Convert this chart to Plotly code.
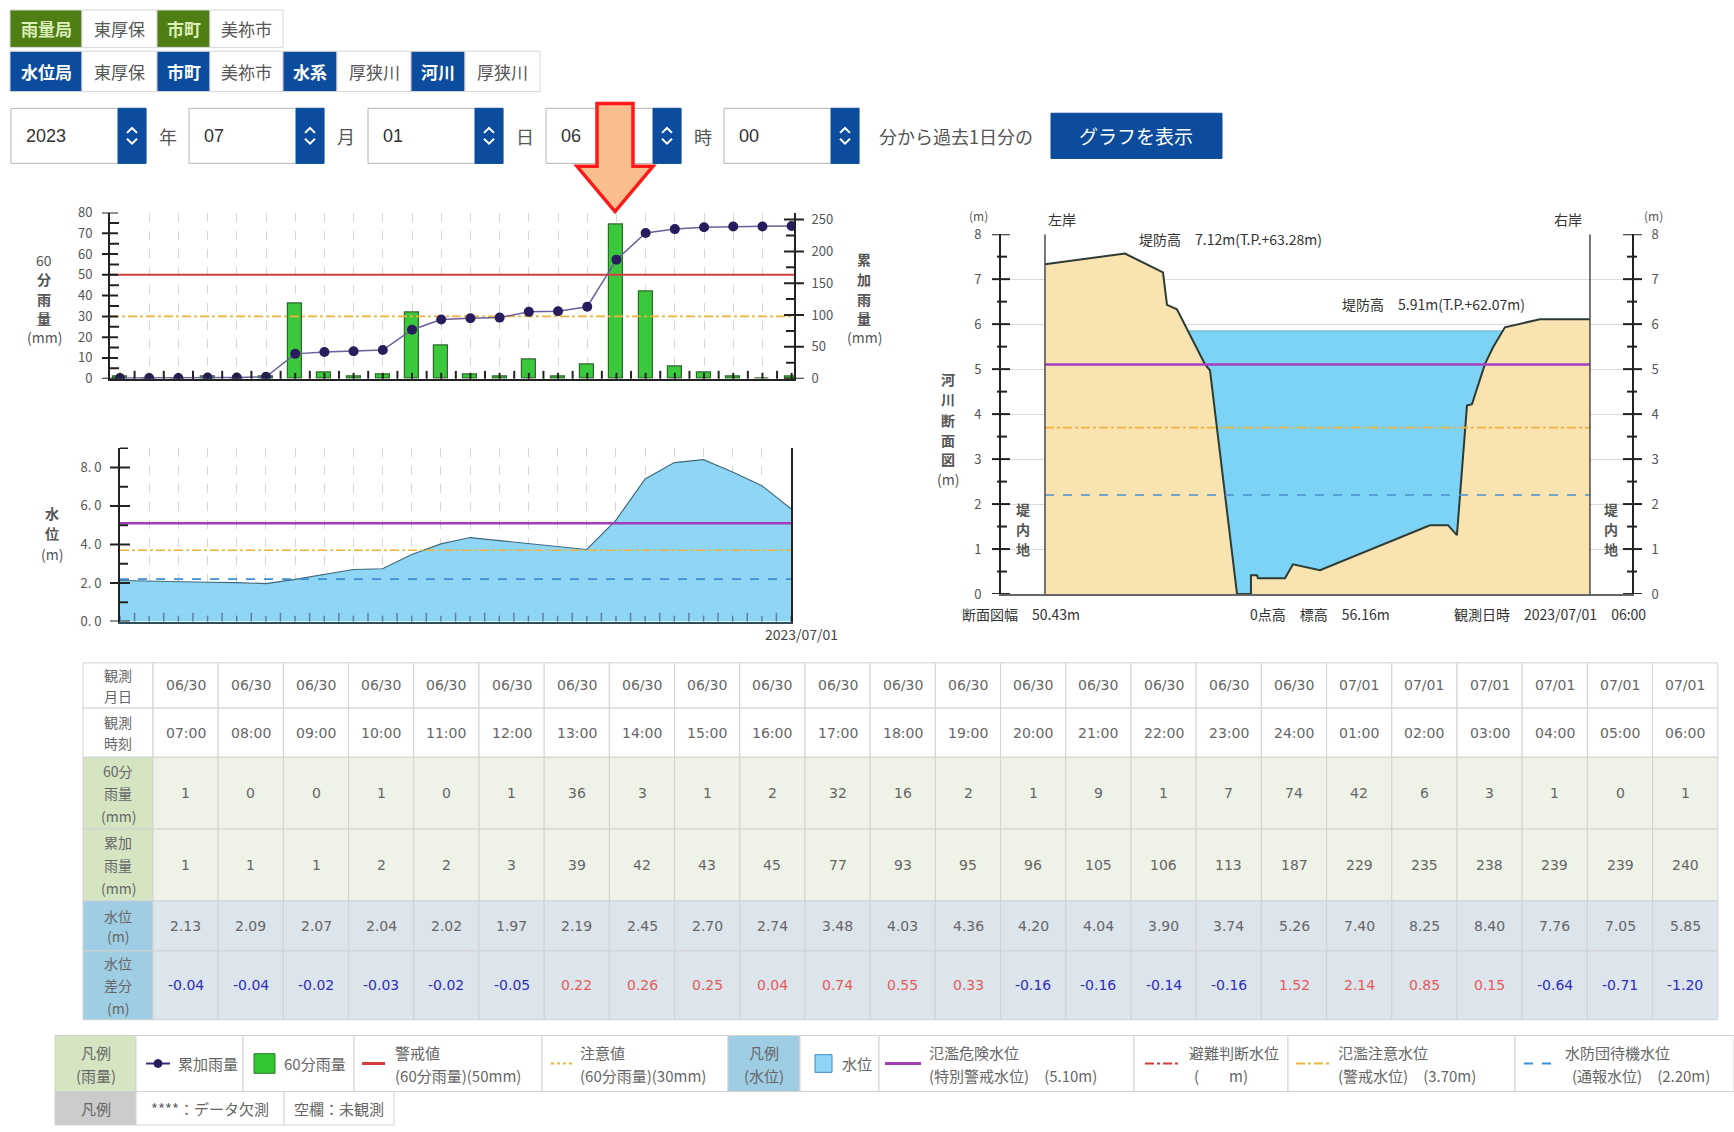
import plotly.graph_objects as go

W, H = 1734, 1132
JP = "Noto Sans CJK JP"
NUM = "DejaVu Sans"

# ---------------- data ----------------
obs_dates = ["06/30"] * 18 + ["07/01"] * 6
obs_times = ["07:00", "08:00", "09:00", "10:00", "11:00", "12:00", "13:00", "14:00",
             "15:00", "16:00", "17:00", "18:00", "19:00", "20:00", "21:00", "22:00",
             "23:00", "24:00", "01:00", "02:00", "03:00", "04:00", "05:00", "06:00"]
rain_60 = [1, 0, 0, 1, 0, 1, 36, 3, 1, 2, 32, 16, 2, 1, 9, 1, 7, 74, 42, 6, 3, 1, 0, 1]
rain_cum = [1, 1, 1, 2, 2, 3, 39, 42, 43, 45, 77, 93, 95, 96, 105, 106, 113, 187, 229,
            235, 238, 239, 239, 240]
water_level = [2.13, 2.09, 2.07, 2.04, 2.02, 1.97, 2.19, 2.45, 2.70, 2.74, 3.48, 4.03,
               4.36, 4.20, 4.04, 3.90, 3.74, 5.26, 7.40, 8.25, 8.40, 7.76, 7.05, 5.85]
level_diff = [-0.04, -0.04, -0.02, -0.03, -0.02, -0.05, 0.22, 0.26, 0.25, 0.04, 0.74,
              0.55, 0.33, -0.16, -0.16, -0.14, -0.16, 1.52, 2.14, 0.85, 0.15, -0.64,
              -0.71, -1.20]
hour_idx = list(range(len(obs_times)))

rain_warn = 50
rain_caution = 30
lvl_danger = 5.10
lvl_caution = 3.70
lvl_standby = 2.20

# river cross-section (distance from left bank [m], height [m])
xs_dist = [0.0, 7.40, 10.92, 11.29, 12.21, 14.80, 15.27, 17.77, 19.06, 19.06, 19.62,
           19.71, 22.21, 22.95, 25.45, 35.62, 37.29, 38.12, 39.05, 39.51, 40.71, 41.45,
           42.56, 45.80, 50.43]
xs_elev = [7.33, 7.57, 7.15, 6.43, 6.33, 5.11, 4.97, 0.0, 0.0, 0.42, 0.42, 0.35, 0.35,
           0.66, 0.53, 1.53, 1.53, 1.31, 4.19, 4.22, 5.11, 5.48, 5.93, 6.11, 6.11]
xs_width = 50.43
xs_water = 5.85

rain_left_ticks = list(range(0, 81, 10))
rain_left_minor = list(range(5, 80, 10))
rain_right_ticks = list(range(0, 251, 50))
rain_right_minor = list(range(25, 250, 50))
level_ticks = [0, 2, 4, 6, 8]
level_ticktext = ["0. 0", "2. 0", "4. 0", "6. 0", "8. 0"]
level_minor = [1, 3, 5, 7, 9]
xs_ticks = list(range(0, 9))
xs_minor = [i + 0.5 for i in range(8)]

# ---------------- helpers ----------------
shapes = []
annotations = []


def X(p):
    return p / W


def Y(p):
    return 1 - p / H


def box(x0, y0, x1, y1, fill, line="#d0d0d0", lw=1, layer="below"):
    shapes.append(dict(type="rect", xref="paper", yref="paper", x0=X(x0), x1=X(x1),
                       y0=Y(y1), y1=Y(y0), fillcolor=fill,
                       line=dict(color=line, width=lw), layer=layer))


def seg(x0, y0, x1, y1, color, w=2, dash="solid", layer="above"):
    shapes.append(dict(type="line", xref="paper", yref="paper", x0=X(x0), x1=X(x1),
                       y0=Y(y0), y1=Y(y1), line=dict(color=color, width=w, dash=dash),
                       layer=layer))


def label(x, y, s, size=14, color="#555", anchor="center", family=JP):
    annotations.append(dict(xref="paper", yref="paper", x=X(x), y=Y(y), text=s,
                            showarrow=False, xanchor=anchor, yanchor="middle",
                            font=dict(size=size, color=color, family=family)))


def ytick(yref, v, x0, x1, color="#222", w=2):
    shapes.append(dict(type="line", xref="paper", yref=yref, x0=X(x0), x1=X(x1),
                       y0=v, y1=v, line=dict(color=color, width=w), layer="above"))


def xtick(xref, v, y0, y1, color="#222", w=2):
    shapes.append(dict(type="line", xref=xref, yref="paper", x0=v, x1=v,
                       y0=Y(y0), y1=Y(y1), line=dict(color=color, width=w), layer="above"))


def vstack(x, ys, texts, size=14, color="#555"):
    for yy, t in zip(ys, texts):
        label(x, yy, t, size=size, color=color)


# ---------------- top controls ----------------
GREEN_HDR = "#4F7E15"
BLUE_HDR = "#0B4C9E"
station_row1 = [("雨量局", "g"), ("東厚保", "w"), ("市町", "g"), ("美祢市", "w")]
station_row2 = [("水位局", "b"), ("東厚保", "w"), ("市町", "b"), ("美祢市", "w"),
                ("水系", "b"), ("厚狭川", "w"), ("河川", "b"), ("厚狭川", "w")]
row1_edges = [10, 82, 157, 210, 283]
row2_edges = [10, 82, 157, 210, 283, 337, 411, 465, 540]
for (items, edges, y0, y1) in [(station_row1, row1_edges, 0, 38),
                               (station_row2, row2_edges, 42, 83)]:
    for k, (t, kind) in enumerate(items):
        a, b = edges[k], edges[k + 1]
        if kind == "g":
            box(a, y0, b, y1, GREEN_HDR, line="#d8d8d8")
            label((a + b) / 2, (y0 + y1) / 2, "<b>" + t + "</b>", 17, "#DDEFB8")
        elif kind == "b":
            box(a, y0, b, y1, BLUE_HDR, line="#d8d8d8")
            label((a + b) / 2, (y0 + y1) / 2, "<b>" + t + "</b>", 17, "#ffffff")
        else:
            box(a, y0, b, y1, "#ffffff", line="#d8d8d8")
            label((a + b) / 2, (y0 + y1) / 2, t, 17, "#555")

date_values = ["2023", "07", "01", "06", "00"]
date_units = ["年", "月", "日", "時"]
sel_left = [11, 189, 368, 546, 724]
sel_w, spin_w = 135, 28
sy0, sy1 = 100, 156
cy = (sy0 + sy1) / 2
for k, v in enumerate(date_values):
    a = sel_left[k]
    box(a, sy0, a + sel_w, sy1, "#ffffff", line="#b5b5b5")
    box(a + sel_w - spin_w, sy0, a + sel_w, sy1, "#0B4C9E", line="#0B4C9E")
    cx = a + sel_w - spin_w / 2
    for sgn in (-1, 1):
        p = (f"M{X(cx - 5)},{Y(cy + sgn * 3)} L{X(cx)},{Y(cy + sgn * 8)} "
             f"L{X(cx + 5)},{Y(cy + sgn * 3)}")
        shapes.append(dict(type="path", xref="paper", yref="paper", path=p,
                           line=dict(color="#ffffff", width=2), layer="above"))
    label(a + 13, cy, v, 18, "#333", anchor="left", family="Liberation Sans")
    if k < 4:
        label((a + sel_w + sel_left[k + 1]) / 2, cy, date_units[k], 18, "#555")
label(877, cy, "分から過去1日分の", 18, "#555", anchor="left")
box(1051, 105, 1222, 151, "#0D4C9C", line="#0D4C9C")
label(1136, cy, "グラフを表示", 19, "#ffffff")

# red arrow
ap = [(597, 95), (633, 95), (633, 159), (653, 159), (615, 205), (577, 159), (597, 159)]
path = "M" + " L".join(f"{X(a)},{Y(b)}" for a, b in ap) + " Z"
shapes.append(dict(type="path", xref="paper", yref="paper", path=path,
                   fillcolor="#F9BE8E", line=dict(color="#FF1A1A", width=3.5),
                   layer="above"))

# ---------------- traces ----------------
RX = [-0.342, 23.08]
traces = []
# rainfall thresholds
traces.append(go.Scatter(x=RX, y=[rain_warn] * 2, mode="lines", xaxis="x", yaxis="y",
                         line=dict(color="#D23C3C", width=2), hoverinfo="skip"))
traces.append(go.Scatter(x=RX, y=[rain_caution] * 2, mode="lines", xaxis="x", yaxis="y",
                         line=dict(color="#F0B23A", width=1.6, dash="dashdot"),
                         hoverinfo="skip"))
traces.append(go.Bar(x=hour_idx, y=rain_60, xaxis="x", yaxis="y", width=0.48,
                     marker=dict(color="#3CC83C", line=dict(color="#2C6A2C", width=1.2))))
traces.append(go.Scatter(x=hour_idx, y=rain_cum, xaxis="x", yaxis="y2",
                         mode="lines+markers",
                         line=dict(color="#6E5E9A", width=1.5),
                         marker=dict(size=10, color="#281C5C")))

# water level
traces.append(go.Scatter(x=hour_idx, y=water_level, xaxis="x3", yaxis="y3", mode="lines",
                         fill="tozeroy", fillcolor="#8FD5F5",
                         line=dict(color="#3F6B7C", width=1.2)))
WX = [0, 23]
traces.append(go.Scatter(x=WX, y=[lvl_danger] * 2, mode="lines", xaxis="x3", yaxis="y3",
                         line=dict(color="#A23CB8", width=2.5)))
traces.append(go.Scatter(x=WX, y=[lvl_caution] * 2, mode="lines", xaxis="x3", yaxis="y3",
                         line=dict(color="#F0B23A", width=1.6, dash="dashdot")))
traces.append(go.Scatter(x=WX, y=[lvl_standby] * 2, mode="lines", xaxis="x3", yaxis="y3",
                         line=dict(color="#3D8FD6", width=1.6, dash="dash")))

# cross-section
BX = [0, xs_width]
traces.append(go.Scatter(x=BX, y=[xs_water] * 2, mode="lines", xaxis="x4", yaxis="y4",
                         fill="tozeroy", fillcolor="#7DD3F6",
                         line=dict(color="#6AAFD0", width=1)))
traces.append(go.Scatter(x=xs_dist, y=xs_elev, mode="lines", xaxis="x4", yaxis="y4",
                         fill="tozeroy", fillcolor="#F8E3B1",
                         line=dict(color="#2E3B33", width=2)))
traces.append(go.Scatter(x=BX, y=[lvl_danger] * 2, mode="lines", xaxis="x4", yaxis="y4",
                         line=dict(color="#A83CC0", width=2.5)))
traces.append(go.Scatter(x=BX, y=[lvl_caution] * 2, mode="lines", xaxis="x4", yaxis="y4",
                         line=dict(color="#F0B23A", width=1.6, dash="dashdot")))
traces.append(go.Scatter(x=BX, y=[lvl_standby] * 2, mode="lines", xaxis="x4", yaxis="y4",
                         line=dict(color="#4A90D0", width=1.6, dash="dash")))
traces.append(go.Scatter(x=BX, y=[0, 0], mode="lines", xaxis="x4", yaxis="y5",
                         line=dict(width=0), hoverinfo="skip"))

fig = go.Figure(traces)

# chart geometry (px)
R_TOP, R_BOT = 206, 375
W_TOP, W_BOT = 445, 622
C_TOP, C_BOT = 228, 594

# ---------------- ticks drawn as crossing marks ----------------
for v in rain_left_ticks:
    ytick("y", v, 102, 118)
for v in rain_left_minor:
    ytick("y", v, 110, 119)
for v in rain_right_ticks:
    ytick("y2", v, 784, 804)
for v in rain_right_minor:
    ytick("y2", v, 786, 795)
for i in hour_idx:
    xtick("x", i, R_BOT, R_BOT - 6)
for i in hour_idx[:-1]:
    xtick("x", i + 0.5, R_BOT, R_BOT - 8)
for v in level_ticks:
    ytick("y3", v, 110, 130)
for v in level_minor:
    ytick("y3", v, 120, 128)
for i in hour_idx:
    xtick("x3", i, W_BOT, W_BOT - 6, color="#5E8398", w=1.5)
for i in hour_idx[:-1]:
    xtick("x3", i + 0.5, W_BOT, W_BOT - 9, color="#5E8398", w=1.5)
for v in xs_ticks:
    ytick("y4", v, 992, 1010)
    ytick("y4", v, 1623, 1642)
for v in xs_minor:
    ytick("y4", v, 997, 1007)
    ytick("y4", v, 1627, 1637)
# bank lines
for bx in BX:
    shapes.append(dict(type="line", xref="x4", yref="y4", x0=bx, x1=bx, y0=0, y1=8,
                       line=dict(color="#4a4a4a", width=1.5), layer="above"))

# ---------------- chart texts ----------------
vstack(44, [254, 274, 294, 313, 333], ["60", "<b>分</b>", "<b>雨</b>", "<b>量</b>", "(mm)"],
       size=14, color="#555")
vstack(864, [253, 274, 294, 313, 333], ["<b>累</b>", "<b>加</b>", "<b>雨</b>", "<b>量</b>", "(mm)"],
       size=14, color="#555")
vstack(52, [512, 532, 553], ["<b>水</b>", "<b>位</b>", "(m)"], size=14, color="#555")
label(840, 635, "2023/07/01", 14, "#444", anchor="right")
vstack(948, [375, 396, 417, 437, 457, 477], ["<b>河</b>", "<b>川</b>", "<b>断</b>", "<b>面</b>", "<b>図</b>", "(m)"],
       size=14, color="#555")
vstack(1023, [508, 528, 548], ["<b>堤</b>", "<b>内</b>", "<b>地</b>"], size=14, color="#555")
vstack(1611, [508, 528, 548], ["<b>堤</b>", "<b>内</b>", "<b>地</b>"], size=14, color="#555")
label(979, 209, "(m)", 12, "#555")
label(1653, 209, "(m)", 12, "#555")
label(1062, 213, "左岸", 14, "#333")
label(1568, 213, "右岸", 14, "#333")
label(1137, 233, "堤防高　7.12m(T.P.+63.28m)", 14, "#333", anchor="left")
label(1340, 299, "堤防高　5.91m(T.P.+62.07m)", 14, "#333", anchor="left")
label(960, 614, "断面図幅　50.43m", 14, "#333", anchor="left")
label(1248, 614, "0点高　標高　56.16m", 14, "#333", anchor="left")
label(1452, 614, "観測日時　2023/07/01　06:00", 14, "#333", anchor="left")

# ---------------- data table ----------------
row_edges = [664, 710, 760, 833, 906, 957, 1027]
tbl_x0, hdr_x1, col_w = 83, 153, 65.2
row_labels = [["観測", "月日"], ["観測", "時刻"], ["60分", "雨量", "(mm)"],
              ["累加", "雨量", "(mm)"], ["水位", "(m)"], ["水位", "差分", "(m)"]]
lab_fill = ["#ffffff", "#ffffff", "#D5E5C2", "#D5E5C2", "#9FCDE3", "#9FCDE3"]
cell_fill = ["#ffffff", "#ffffff", "#EEF2E7", "#EEF2E7", "#DCE4EC", "#DCE4EC"]
row_values = [obs_dates, obs_times, [str(v) for v in rain_60], [str(v) for v in rain_cum],
              [f"{v:.2f}" for v in water_level], [f"{v:.2f}" for v in level_diff]]
for r in range(6):
    y0, y1 = row_edges[r], row_edges[r + 1]
    ymid = (y0 + y1) / 2
    box(tbl_x0, y0, hdr_x1, y1, lab_fill[r], line="#d2d2d2")
    n = len(row_labels[r])
    step = 23 if n == 3 else 21
    for k, t in enumerate(row_labels[r]):
        label((tbl_x0 + hdr_x1) / 2, ymid + (k - (n - 1) / 2) * step, t, 14, "#666")
    for j, v in enumerate(row_values[r]):
        a = hdr_x1 + col_w * j
        box(a, y0, a + col_w, y1, cell_fill[r], line="#d2d2d2")
        col = "#666"
        if r == 5:
            col = "#2E2EB8" if level_diff[j] < 0 else "#E45A5A"
        label(a + col_w / 2, ymid, v, 14, col, family=NUM)

# ---------------- legend ----------------
ly0, ly1, ly2 = 1043, 1100, 1134
lmid = (ly0 + ly1) / 2
lt1, lt2 = lmid - 11, lmid + 12
leg_edges = [55, 136, 243, 354, 542, 728, 800, 879, 1134, 1288, 1515, 1734]
leg_fill = ["#D5E5C2", "#fff", "#fff", "#fff", "#fff", "#9FCDE3", "#fff", "#fff", "#fff",
            "#fff", "#fff"]
for k in range(len(leg_edges) - 1):
    box(leg_edges[k], ly0, leg_edges[k + 1], ly1, leg_fill[k], line="#d2d2d2")
label(96, lt1, "凡例", 15, "#666")
label(96, lt2, "(雨量)", 15, "#666")
label(764, lt1, "凡例", 15, "#666")
label(764, lt2, "(水位)", 15, "#666")
# symbols
seg(146, lmid, 170, lmid, "#3A2C7A", 2)
shapes.append(dict(type="circle", xref="paper", yref="paper", x0=X(154), x1=X(162),
                   y0=Y(lmid + 4), y1=Y(lmid - 4), fillcolor="#281C5C",
                   line=dict(color="#281C5C", width=1), layer="above"))
label(176, lmid, "累加雨量", 15, "#666", anchor="left")
box(254, lmid - 10, 275, lmid + 10, "#33C633", line="#2D7A2D", layer="above")
label(282, lmid, "60分雨量", 15, "#666", anchor="left")
seg(362, lmid, 385, lmid, "#D23C3C", 3)
label(393, lt1, "警戒値", 15, "#666", anchor="left")
label(393, lt2, "(60分雨量)(50mm)", 15, "#666", anchor="left")
seg(551, lmid, 574, lmid, "#F0B23A", 2, "dot")
label(578, lt1, "注意値", 15, "#666", anchor="left")
label(578, lt2, "(60分雨量)(30mm)", 15, "#666", anchor="left")
box(815, lmid - 9, 832, lmid + 9, "#8FD5F5", line="#3D8FD6", layer="above")
label(840, lmid, "水位", 15, "#666", anchor="left")
seg(885, lmid, 921, lmid, "#A23CB8", 3)
label(927, lt1, "氾濫危険水位", 15, "#666", anchor="left")
label(927, lt2, "(特別警戒水位)　(5.10m)", 15, "#666", anchor="left")
seg(1145, lmid, 1181, lmid, "#D23C3C", 2, "dashdot")
label(1187, lt1, "避難判断水位", 15, "#666", anchor="left")
label(1192, lt2, "(　　m)", 15, "#666", anchor="left")
seg(1296, lmid, 1329, lmid, "#F0B23A", 2, "dashdot")
label(1336, lt1, "氾濫注意水位", 15, "#666", anchor="left")
label(1336, lt2, "(警戒水位)　(3.70m)", 15, "#666", anchor="left")
seg(1524, lmid, 1559, lmid, "#3D8FD6", 2, "dash")
label(1563, lt1, "水防団待機水位", 15, "#666", anchor="left")
label(1570, lt2, "(通報水位)　(2.20m)", 15, "#666", anchor="left")
# row 2
box(55, ly1, 136, ly2, "#CBCBCB", line="#d2d2d2")
box(136, ly1, 284, ly2, "#fff", line="#d2d2d2")
box(284, ly1, 394, ly2, "#fff", line="#d2d2d2")
label(96, (ly1 + ly2) / 2, "凡例", 15, "#666")
label(210, (ly1 + ly2) / 2, "****：データ欠測", 15, "#666")
label(339, (ly1 + ly2) / 2, "空欄：未観測", 15, "#666")

# ---------------- layout ----------------
tickfont = dict(family=JP, size=13, color="#555")
fig.update_layout(
    width=W, height=H, autosize=False, margin=dict(l=0, r=0, t=0, b=0),
    paper_bgcolor="white", plot_bgcolor="rgba(0,0,0,0)", showlegend=False,
    bargap=0,
    xaxis=dict(domain=[X(110), X(794)], range=RX, anchor="y",
               tickvals=list(range(1, 23)), showticklabels=False, ticks="",
               showgrid=True, griddash="dash", gridcolor="#d6d6d6", gridwidth=1,
               zeroline=False, showline=True, linecolor="#222", linewidth=2),
    yaxis=dict(domain=[Y(R_BOT), Y(R_TOP)], range=[0, 80], anchor="x",
               tickvals=rain_left_ticks, ticks="", ticklabelstandoff=13,
               tickfont=tickfont, showgrid=False, zeroline=False,
               showline=True, linecolor="#222", linewidth=2),
    yaxis2=dict(overlaying="y", side="right", anchor="x", range=[0, 261],
                tickvals=rain_right_ticks, ticks="", ticklabelstandoff=13,
                tickfont=tickfont, showgrid=False, zeroline=False,
                showline=True, linecolor="#222", linewidth=2),
    xaxis3=dict(domain=[X(120), X(791)], range=[0, 23], anchor="y3",
                tickvals=list(range(1, 23)), showticklabels=False, ticks="",
                showgrid=True, griddash="dash", gridcolor="#d6d6d6", gridwidth=1,
                zeroline=False, showline=True, linecolor="#2F4F5F", linewidth=2),
    yaxis3=dict(domain=[Y(W_BOT), Y(W_TOP)], range=[0, 9.03], anchor="x3",
                tickvals=level_ticks, ticktext=level_ticktext, ticks="",
                ticklabelstandoff=14, tickfont=tickfont, showgrid=False,
                zeroline=False, showline=True, mirror=True, linecolor="#222",
                linewidth=2),
    xaxis4=dict(domain=[X(1001), X(1632)], range=[-4.07, 54.32], anchor="y4",
                showticklabels=False, ticks="", showgrid=False, zeroline=False,
                showline=True, linecolor="#666", linewidth=1.5),
    yaxis4=dict(domain=[Y(C_BOT), Y(C_TOP)], range=[0, 8], anchor="x4",
                tickvals=xs_ticks, ticks="", ticklabelstandoff=15, tickfont=tickfont,
                showgrid=True, gridcolor="#dcdcdc", zeroline=False, showline=True,
                linecolor="#222", linewidth=2),
    yaxis5=dict(overlaying="y4", side="right", anchor="x4", range=[0, 8],
                tickvals=xs_ticks, ticks="", ticklabelstandoff=15, tickfont=tickfont,
                showgrid=False, zeroline=False, showline=True, linecolor="#222",
                linewidth=2),
    shapes=shapes,
    annotations=annotations,
)

fig.write_html(
    "out.html",
    config={"displayModeBar": False},
    post_script="document.body.style.margin='0';document.body.style.overflow='hidden';",
)
